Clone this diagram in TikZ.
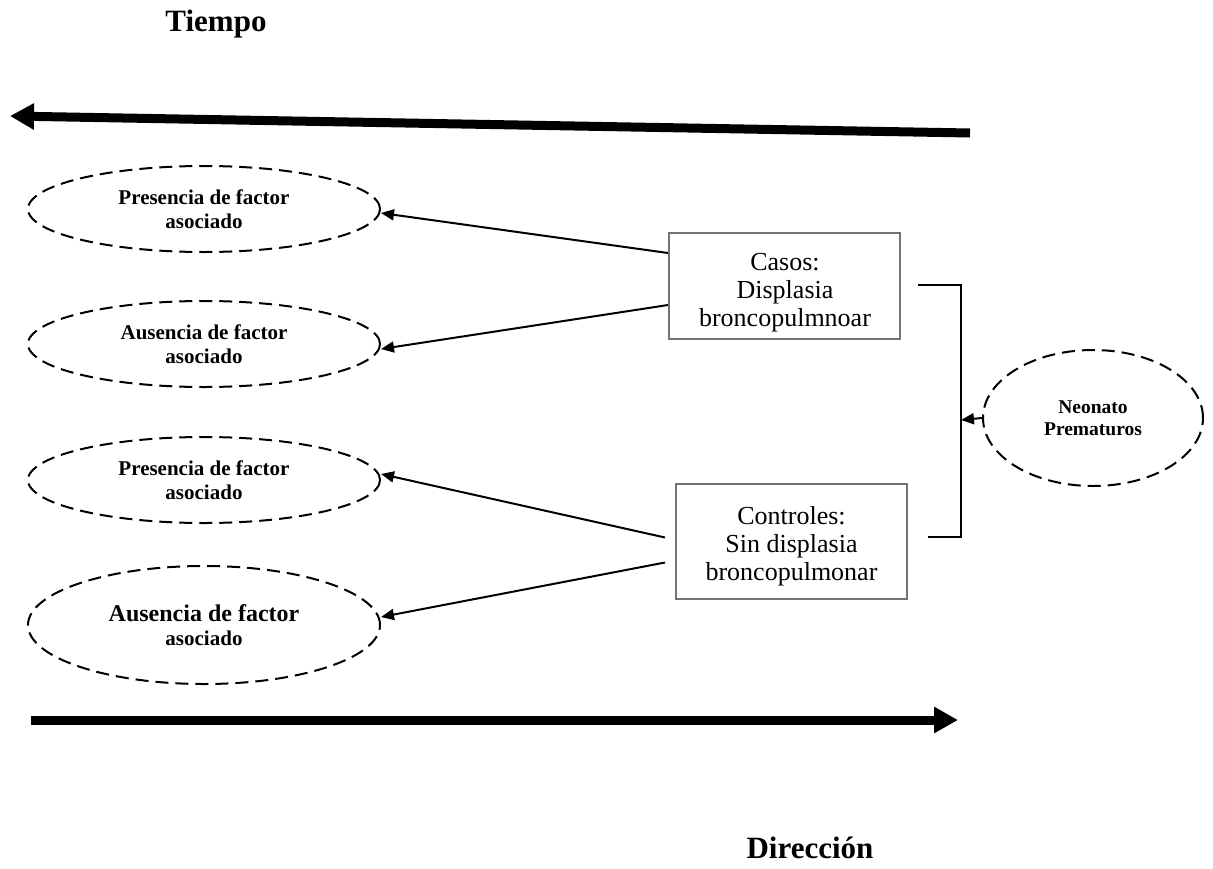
\documentclass[tikz,border=0pt]{standalone}
\usepackage{fontspec}
\setmainfont{Liberation Serif}
\usetikzlibrary{arrows.meta,shapes.geometric}
\begin{document}
\begin{tikzpicture}[x=1pt,y=-1pt,
  oval/.style={draw,ellipse,dash pattern=on 13pt off 7pt,line width=2pt,minimum width=352pt,inner sep=0pt,align=center,font=\bfseries\fontsize{21}{24}\selectfont},
  box/.style={draw=black!55,line width=2pt,inner sep=0pt},
  boxtext/.style={align=center,font=\fontsize{26}{28}\selectfont,inner sep=0pt},
  conn/.style={line width=2pt,-{Triangle[length=13pt,width=11pt]}},
  big/.style={line width=9pt,-{Triangle[length=24pt,width=25pt]}},
  bracket/.style={line width=2pt},
  title/.style={font=\bfseries\fontsize{31}{36}\selectfont,anchor=base,inner sep=0pt}]
\useasboundingbox (0,0) rectangle (1213,868);

\node[title] (tiempo) at (216,31) {Tiempo};
\node[title] (dir) at (810,858) {Dirección};

\coordinate (tR) at (970,133);
\coordinate (tL) at (10,116);
\draw[big] (tR) -- (tL);
\coordinate (bL) at (31,720);
\coordinate (bR) at (958,720);
\draw[big] (bL) -- (bR);

\node[oval,minimum height=86pt] (e1) at (204,209) {Presencia de factor\\asociado};
\node[oval,minimum height=86pt] (e2) at (204,344) {Ausencia de factor\\asociado};
\node[oval,minimum height=86pt] (e3) at (204,480) {Presencia de factor\\asociado};
\node[oval,minimum height=118pt] (e4) at (204,625) {\fontsize{24}{26}\selectfont Ausencia de factor\\\fontsize{21}{24}\selectfont asociado};

\node[box,minimum width=231pt,minimum height=106pt] (cas) at (784.5,286) {};
\node[boxtext] (castext) at (785,293) {Casos:\\Displasia\\broncopulmnoar};
\node[box,minimum width=231pt,minimum height=115pt] (con) at (791.5,541.5) {};
\node[boxtext] (context) at (791.5,546) {Controles:\\Sin displasia\\broncopulmonar};

\draw[conn] ([yshift=33pt]cas.west) -- ([yshift=-4pt]e1.east);
\draw[conn] ([yshift=-19pt]cas.west) -- ([yshift=-5pt]e2.east);
\draw[conn] ([xshift=-10pt,yshift=4pt]con.west) -- ([yshift=6pt]e3.east);
\draw[conn] ([xshift=-10pt,yshift=-21pt]con.west) -- ([yshift=8pt]e4.east);

\node[oval,minimum width=220pt,minimum height=136pt,font=\bfseries\fontsize{19.5}{22}\selectfont] (neo) at (1093,418) {Neonato\\Prematuros};

\coordinate (b1) at (918,285);
\coordinate (b2) at (961,285);
\coordinate (b3) at (961,537);
\coordinate (b4) at (928,537);
\draw[bracket] (b1) -- (b2) -- (b3) -- (b4);
\coordinate (bm) at (961,420);
\draw[conn] (neo.west) -- (bm);
\end{tikzpicture}
\end{document}
